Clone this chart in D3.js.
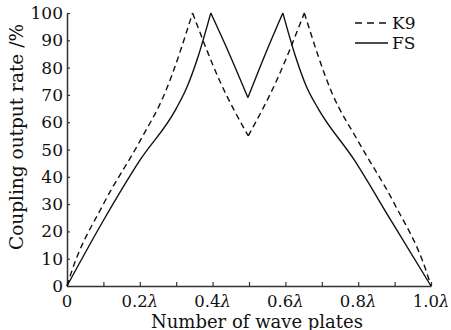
<!DOCTYPE html>
<html>
<head>
<meta charset="utf-8">
<script src="https://cdn.jsdelivr.net/npm/d3@7"></script>
<style>
  html, body { margin: 0; padding: 0; background: #fff; }
  svg { display: block; }
  text { font-family: "DejaVu Serif", "Liberation Serif", serif; fill: #111; }
</style>
</head>
<body>
<svg id="chart" width="451" height="330"></svg>
<script>
// ---- data ----
const seriesNames = ["K9", "FS"];
const k9X = [0, 0.012, 0.1, 0.2, 0.27, 0.345, 0.42, 0.498, 0.575, 0.652, 0.727, 0.8, 0.9, 0.988, 1.0];
const k9Y = [0, 5, 30, 53, 71, 100, 75, 55, 75, 100, 71, 53, 30, 5, 0];
const fsX = [0, 0.1, 0.2, 0.3, 0.33, 0.36, 0.395, 0.446, 0.497, 0.545, 0.593, 0.628, 0.658, 0.69, 0.79, 0.89, 1.0];
const fsY = [0, 24, 46, 65, 73, 84, 100, 85, 69, 85, 100, 84, 73, 65, 46, 24, 0];
const xTickValues = [0, 0.1, 0.2, 0.3, 0.4, 0.5, 0.6, 0.7, 0.8, 0.9, 1.0];
const xTickLabels = ["0", "", "0.2", "", "0.4", "", "0.6", "", "0.8", "", "1.0"];
const yTickValues = [0, 10, 20, 30, 40, 50, 60, 70, 80, 90, 100];
const xTitle = "Number of wave plates";
const yTitle = "Coupling output rate /%";

// ---- layout ----
const svg = d3.select("#chart");
const x = d3.scaleLinear().domain([0, 1]).range([67, 431]);
const y = d3.scaleLinear().domain([0, 100]).range([286, 13]);
const axisColor = "#333";

// X axis (ticks inward)
const xAxis = svg.append("g").attr("transform", `translate(0,${y(0)})`)
  .call(d3.axisTop(x).tickValues(xTickValues).tickSize(4).tickSizeOuter(0).tickFormat(""));
xAxis.select(".domain").attr("stroke", axisColor).attr("stroke-width", 1.5);
xAxis.selectAll(".tick line").attr("stroke", axisColor).attr("stroke-width", 1.2);

// X tick labels
const xl = svg.append("g");
xTickValues.forEach((v, i) => {
  const lab = xTickLabels[i];
  if (lab === "") return;
  const t = xl.append("text")
    .attr("x", x(v))
    .attr("y", 307)
    .attr("text-anchor", "middle")
    .attr("font-size", 16.5);
  t.append("tspan").text(lab);
  if (lab !== "0") t.append("tspan").attr("font-style", "italic").text("λ");
});

// Y axis (ticks inward)
const yAxis = svg.append("g").attr("transform", `translate(${x(0)},0)`)
  .call(d3.axisRight(y).tickValues(yTickValues).tickSize(3).tickSizeOuter(0).tickFormat(""));
yAxis.select(".domain").attr("stroke", axisColor).attr("stroke-width", 1.5);
yAxis.selectAll(".tick line").attr("stroke", axisColor).attr("stroke-width", 1.2);

// Y tick labels
svg.append("g").selectAll("text").data(yTickValues).join("text")
  .attr("x", 63)
  .attr("y", d => y(d) + 6)
  .attr("text-anchor", "end")
  .attr("font-size", 17)
  .text(d => d);

// Axis titles
svg.append("text")
  .attr("x", 257).attr("y", 327.5)
  .attr("text-anchor", "middle").attr("font-size", 18)
  .text(xTitle);
svg.append("text")
  .attr("transform", `translate(23,137) rotate(-90)`)
  .attr("text-anchor", "middle").attr("font-size", 18.5)
  .text(yTitle);

// Lines: split at local extrema, each monotone piece drawn smooth
function pieces(xs, ys) {
  const pts = xs.map((v, i) => [v, ys[i]]);
  const out = [];
  let cur = [pts[0]];
  for (let i = 1; i < pts.length; i++) {
    cur.push(pts[i]);
    if (i < pts.length - 1) {
      const a = ys[i] - ys[i - 1], b = ys[i + 1] - ys[i];
      if (a * b < 0) { out.push(cur); cur = [pts[i]]; }
    }
  }
  out.push(cur);
  return out;
}
const line = d3.line().x(d => x(d[0])).y(d => y(d[1])).curve(d3.curveMonotoneX);
function pathD(xs, ys) { return pieces(xs, ys).map(p => line(p)).join(""); }

svg.append("path").attr("d", pathD(k9X, k9Y))
  .attr("fill", "none").attr("stroke", "#111").attr("stroke-width", 1.4)
  .attr("stroke-dasharray", "6,4");
svg.append("path").attr("d", pathD(fsX, fsY))
  .attr("fill", "none").attr("stroke", "#111").attr("stroke-width", 1.4);

// Legend
const leg = svg.append("g");
const legY = [23, 43];
const dashes = ["7,5", null];
seriesNames.forEach((name, i) => {
  const l = leg.append("line")
    .attr("x1", 355).attr("x2", 388)
    .attr("y1", legY[i]).attr("y2", legY[i])
    .attr("stroke", "#111").attr("stroke-width", 1.4);
  if (dashes[i]) l.attr("stroke-dasharray", dashes[i]);
  leg.append("text").attr("x", 392).attr("y", legY[i] + 6)
    .attr("font-size", 17).text(name);
});
</script>
</body>
</html>
